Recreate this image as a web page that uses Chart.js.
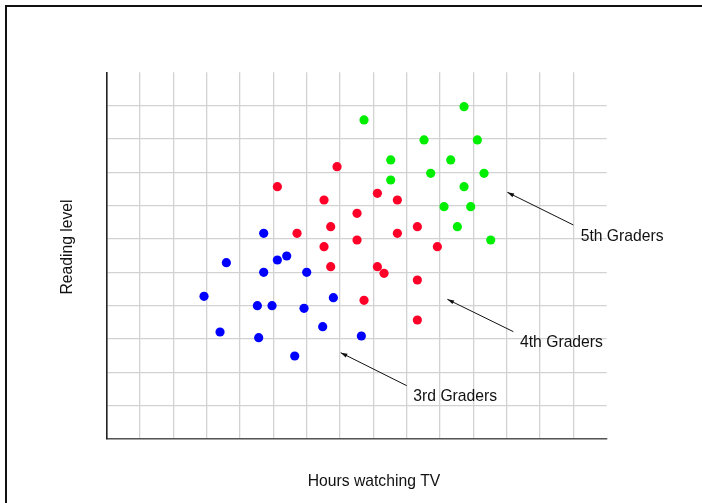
<!DOCTYPE html>
<html lang="en">
<head>
    <meta charset="UTF-8">
    <title>Reading level vs hours watching TV</title>
    <script src="https://cdn.jsdelivr.net/npm/chart.js"></script>
    <style>
        html, body { margin: 0; padding: 0; background: #fff; overflow: hidden; }
        .frame { position: absolute; left: 5px; top: 5px; width: 800px; height: 600px;
                 border-top: 2px solid #111; border-left: 2px solid #111; }
        .wrap { position: relative; width: 702px; height: 503px; }
    </style>
</head>
<body>
    <div class="frame"></div>
    <div class="wrap">
        <canvas id="scatterChart" width="702" height="503"></canvas>
    </div>

    <script>
        // Values (grid units: 15 columns, 11 rows)
        const thirdX  = [4.71, 5.12, 5.40, 3.59, 4.71, 6.00, 2.92, 4.52, 4.96, 5.92, 6.80, 3.40, 4.56, 6.48, 7.64, 5.64];
        const thirdY  = [6.17, 5.37, 5.49, 5.29, 5.00, 5.00, 4.28, 4.00, 4.00, 3.92, 4.24, 3.21, 3.04, 3.37, 3.09, 2.49];
        const fourthX = [5.12, 6.91, 6.52, 7.51, 6.72, 5.71, 7.51, 6.52, 8.12, 8.72, 9.32, 8.72, 9.92, 6.72, 7.72, 8.12, 8.32, 9.32, 9.32];
        const fourthY = [7.57, 8.17, 7.17, 6.77, 6.37, 6.17, 5.97, 5.77, 7.37, 7.17, 6.37, 6.17, 5.77, 5.17, 4.16, 5.17, 4.97, 4.77, 3.57];
        const fifthX  = [7.72, 10.72, 9.52, 11.12, 8.52, 10.32, 9.72, 11.32, 8.52, 10.72, 10.12, 10.92, 10.52, 11.52];
        const fifthY  = [9.57, 9.97, 8.97, 8.97, 8.37, 8.37, 7.97, 7.97, 7.77, 7.57, 6.97, 6.97, 6.37, 5.97];

        const groupNames = ['3rd Graders', '4th Graders', '5th Graders'];
        // label anchor (x, y) and arrow tail -> head, in data units
        const labelPos  = [[9.2, 1.28], [12.4, 2.88], [14.22, 6.08]];
        const arrowTail = [[9.0, 1.6], [12.2, 3.22], [14.0, 6.42]];
        const arrowHead = [[7.02, 2.59], [10.22, 4.19], [12.02, 7.4]];

        const xMax = 15;
        const yMax = 11;

        const toPoints = (xs, ys) => xs.map((x, i) => ({ x: x, y: ys[i] }));
        const font = '15.7px "Liberation Sans", Arial, sans-serif';

        // arrows, group labels and axis titles
        const notes = {
            id: 'notes',
            afterDatasetsDraw(chart) {
                const { ctx, scales: { x, y } } = chart;
                ctx.save();
                ctx.strokeStyle = '#111';
                ctx.fillStyle = '#111';
                ctx.lineWidth = 1;
                groupNames.forEach((name, i) => {
                    const x1 = x.getPixelForValue(arrowTail[i][0]);
                    const y1 = y.getPixelForValue(arrowTail[i][1]);
                    const x2 = x.getPixelForValue(arrowHead[i][0]);
                    const y2 = y.getPixelForValue(arrowHead[i][1]);
                    ctx.beginPath();
                    ctx.moveTo(x1, y1);
                    ctx.lineTo(x2, y2);
                    ctx.stroke();
                    const a = Math.atan2(y2 - y1, x2 - x1);
                    ctx.beginPath();
                    ctx.moveTo(x2, y2);
                    ctx.lineTo(x2 - 7 * Math.cos(a - 0.3), y2 - 7 * Math.sin(a - 0.3));
                    ctx.lineTo(x2 - 7 * Math.cos(a + 0.3), y2 - 7 * Math.sin(a + 0.3));
                    ctx.closePath();
                    ctx.fill();

                    ctx.font = font;
                    ctx.textAlign = 'left';
                    ctx.textBaseline = 'middle';
                    ctx.fillText(name, x.getPixelForValue(labelPos[i][0]), y.getPixelForValue(labelPos[i][1]));
                });

                ctx.textAlign = 'center';
                ctx.textBaseline = 'middle';
                ctx.fillText('Hours watching TV', 374, 482);
                ctx.translate(68, 247);
                ctx.rotate(-Math.PI / 2);
                ctx.fillText('Reading level', 0, 0);
                ctx.restore();
            }
        };

        const gridColor = max => c => (c.tick && c.tick.value >= max) ? 'rgba(0,0,0,0)' : '#d2d2d2';

        new Chart(document.getElementById('scatterChart').getContext('2d'), {
            type: 'scatter',
            data: {
                datasets: [{
                    label: groupNames[0],
                    data: toPoints(thirdX, thirdY),
                    backgroundColor: '#0000ff'
                }, {
                    label: groupNames[1],
                    data: toPoints(fourthX, fourthY),
                    backgroundColor: '#ff0028'
                }, {
                    label: groupNames[2],
                    data: toPoints(fifthX, fifthY),
                    backgroundColor: '#00ee00'
                }]
            },
            options: {
                responsive: false,
                animation: false,
                layout: { padding: { left: 106.7, top: 72.3, right: 95.3, bottom: 64 } },
                elements: { point: { radius: 4.6, borderWidth: 0, hoverRadius: 4.6 } },
                plugins: { legend: { display: false }, tooltip: { enabled: false } },
                scales: {
                    x: {
                        type: 'linear', min: 0, max: xMax,
                        ticks: { display: false, stepSize: 1 },
                        grid: { color: gridColor(xMax), lineWidth: 1.3, drawTicks: false },
                        border: { color: '#555', width: 1.6 }
                    },
                    y: {
                        type: 'linear', min: 0, max: yMax,
                        ticks: { display: false, stepSize: 1 },
                        grid: { color: gridColor(yMax), lineWidth: 1.3, drawTicks: false },
                        border: { color: '#222', width: 1.6 }
                    }
                }
            },
            plugins: [notes]
        });
    </script>
</body>
</html>
